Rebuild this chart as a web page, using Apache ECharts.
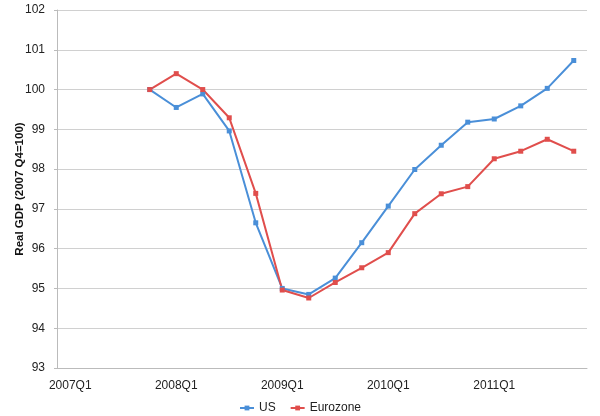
<!DOCTYPE html>
<html>
<head>
<meta charset="utf-8">
<script src="https://cdn.jsdelivr.net/npm/echarts@6/dist/echarts.min.js"></script>
<style>html,body{margin:0;padding:0;background:#fff}#c{width:600px;height:416px}</style>
</head>
<body>
<div id="c"></div>
<script>
var categories = ['2007Q1','2007Q2','2007Q3','2007Q4','2008Q1','2008Q2','2008Q3','2008Q4','2009Q1','2009Q2','2009Q3','2009Q4','2010Q1','2010Q2','2010Q3','2010Q4','2011Q1','2011Q2','2011Q3','2011Q4'];
var usValues = [null,null,null,100.00,99.55,99.89,98.96,96.65,95.00,94.85,95.26,96.15,97.07,97.99,98.60,99.18,99.26,99.59,100.03,100.73];
var euroValues = [null,null,null,100.00,100.40,100.00,99.29,97.39,94.96,94.76,95.15,95.52,95.90,96.88,97.38,97.56,98.26,98.45,98.75,98.45];
var yTitle = 'Real GDP (2007 Q4=100)';
var seriesNames = ['US','Eurozone'];

var chart = echarts.init(document.getElementById('c'));
var font = 'Liberation Sans, Arial, sans-serif';
chart.setOption({
  animation: false,
  grid: {left: 57, right: 13, top: 10, bottom: 48, containLabel: false, outerBoundsMode: 'none'},
  legend: {
    bottom: -3, left: 'center',
    itemWidth: 14, itemHeight: 6, itemGap: 14,
    textStyle: {fontFamily: font, fontSize: 12, color: '#222'},
    data: seriesNames
  },
  xAxis: {
    type: 'category', data: categories, boundaryGap: true,
    axisLine: {lineStyle: {color: '#bbb'}},
    axisTick: {interval: 3, length: 4, lineStyle: {color: '#bbb'}},
    axisLabel: {interval: 3, color: '#222', fontFamily: font, fontSize: 12, margin: 12},
    splitLine: {show: false}
  },
  yAxis: {
    type: 'value', min: 93, max: 102, interval: 1,
    name: yTitle, nameLocation: 'middle', nameGap: 31, nameMoveOverlap: false,
    nameTextStyle: {fontFamily: font, fontSize: 11.5, fontWeight: 'bold', color: '#111'},
    axisLine: {show: true, lineStyle: {color: '#bbb'}},
    axisTick: {show: true, length: 3, lineStyle: {color: '#bbb'}},
    axisLabel: {color: '#222', fontFamily: font, fontSize: 12, margin: 12},
    splitLine: {lineStyle: {color: '#d0d0d0'}}
  },
  series: [
    {name: seriesNames[0], type: 'line', data: usValues, symbol: 'rect', symbolSize: 5,
     itemStyle: {color: '#4a8fd8'}, lineStyle: {width: 2, color: '#4a8fd8'}},
    {name: seriesNames[1], type: 'line', data: euroValues, symbol: 'rect', symbolSize: 5,
     itemStyle: {color: '#e04e4c'}, lineStyle: {width: 2, color: '#e04e4c'}}
  ]
});
</script>
</body>
</html>
